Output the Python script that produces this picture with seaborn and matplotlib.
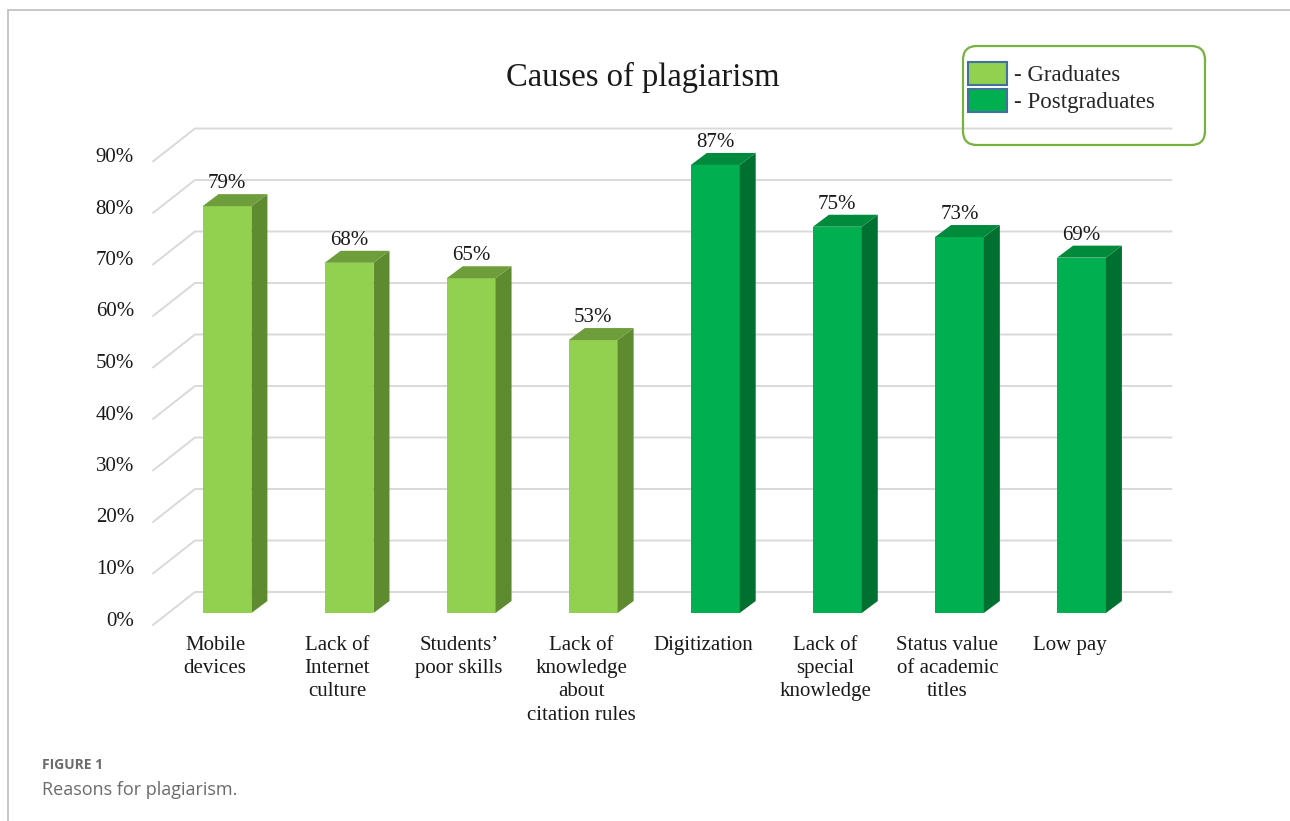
# Pseudo-3D bar chart: causes of plagiarism for graduates and postgraduates.

import numpy as np
import pandas as pd
import seaborn as sns
import matplotlib
matplotlib.use("Agg")
import matplotlib.pyplot as plt
from matplotlib.patches import Polygon, Patch, FancyBboxPatch
from matplotlib.lines import Line2D

# Data
categories = ["Mobile\ndevices", "Lack of\nInternet\nculture", "Students’\npoor skills",
              "Lack of\nknowledge\nabout\ncitation rules", "Digitization",
              "Lack of\nspecial\nknowledge", "Status value\nof academic\ntitles", "Low pay"]
values = [79, 68, 65, 53, 87, 75, 73, 69]
groups = ["Graduates"] * 4 + ["Postgraduates"] * 4
group_names = ["Graduates", "Postgraduates"]
y_ticks = list(range(0, 100, 10))

# Face colours: front, side, top
front = {"Graduates": "#92D050", "Postgraduates": "#00B050"}
side = {"Graduates": "#5E8B2F", "Postgraduates": "#007030"}
top = {"Graduates": "#6E9D3B", "Postgraduates": "#008A3C"}
ink = "#1A1A1A"

sns.set_style("white")
plt.rcParams["font.family"] = ["Liberation Serif", "DejaVu Serif"]

W, H = 1290, 821
fig = plt.figure(figsize=(W / 100, H / 100), dpi=100)
ax = fig.add_axes([100 / W, (H - 700) / H, 1100 / W, 600 / H])

df = pd.DataFrame({"cause": categories, "value": values, "group": groups})
sns.barplot(data=df, x="cause", y="value", hue="group", hue_order=group_names,
            palette=front, width=0.4, dodge=False, saturation=1, legend=False,
            linewidth=0, ax=ax, zorder=2)

# pixel scale of the bar plane
cat_px, first_px = 122.07, 227
val_px, base_px = 5.15, 613
ax.set_xlim((100 - first_px) / cat_px, (1200 - first_px) / cat_px)
ax.set_ylim((base_px - 700) / val_px, (base_px - 100) / val_px)
ax.axis("off")


def shift(x, y, dx, dy):
    # data point moved by a pixel offset, back in data coords
    px, py = ax.transData.transform((x, y))
    return ax.transData.inverted().transform((px + dx, py + dy))


left_edge, right_edge = -0.5, len(categories) - 0.5

# back wall gridlines with the slanted floor-side stubs
for v in y_ticks:
    f = shift(left_edge, v, -13, -12)
    bl = shift(left_edge, v, 29, 21)
    br = shift(right_edge, v, 29, 21)
    ax.plot([f[0], bl[0], br[0]], [f[1], bl[1], br[1]], color="#D9D9D9", lw=1.4, zorder=0)
    t = shift(left_edge, v, -32, -8)
    ax.text(t[0], t[1], f"{v}%", ha="right", va="center", fontsize=15, color=ink)

# depth faces and value labels
dx, dy = 16, 12
for cont, g in zip(ax.containers, group_names):
    for bar in cont:
        h = bar.get_height()
        if np.isnan(h):
            continue
        x0 = bar.get_x()
        x1 = x0 + bar.get_width()
        side_pts = [(x1, 0), (x1, h), shift(x1, h, dx, dy), shift(x1, 0, dx, dy)]
        top_pts = [(x0, h), (x1, h), shift(x1, h, dx, dy), shift(x0, h, dx, dy)]
        ax.add_patch(Polygon(side_pts, closed=True, facecolor=side[g], lw=0, zorder=2))
        ax.add_patch(Polygon(top_pts, closed=True, facecolor=top[g], lw=0, zorder=2))
        lx, ly = shift((x0 + x1) / 2, h, 0, dy + 1)
        ax.text(lx, ly, f"{h:.0f}%", ha="center", va="bottom", fontsize=15, color=ink)

# category labels
for xt, lab in zip(ax.get_xticks(), categories):
    p = shift(xt, 0, -12, -23)
    ax.text(p[0], p[1], lab, ha="center", va="top", fontsize=15, color=ink,
            linespacing=1.3)

fig.text(643 / W, 1 - 77 / H, "Causes of plagiarism", ha="center", va="center",
         fontsize=23.5, color=ink)

# legend in a rounded green frame
handles = [Patch(facecolor=front[g], edgecolor="#41719C", linewidth=1.5, label="- " + g)
           for g in group_names]
fig.legend(handles=handles, loc="upper left", bbox_to_anchor=(968 / W, 1 - 62 / H),
           bbox_transform=fig.transFigure, frameon=False, fontsize=16.5,
           handlelength=1.7, handleheight=1.17, handletextpad=0.3, labelspacing=0.12,
           borderpad=0, borderaxespad=0)
fig.add_artist(FancyBboxPatch((963 / 100, (H - 145) / 100), 2.42, 0.99,
                              boxstyle="round,pad=0,rounding_size=0.14",
                              transform=fig.dpi_scale_trans, facecolor="none",
                              edgecolor="#77B140", lw=1.6))

# page frame and caption
fig.add_artist(Line2D([8 / W, 1], [1 - 10 / H, 1 - 10 / H], transform=fig.transFigure,
                      color="#BDBDBD", lw=1.2))
fig.add_artist(Line2D([8 / W, 8 / W], [0, 1 - 10 / H], transform=fig.transFigure,
                      color="#BDBDBD", lw=1.2))
fig.text(42 / W, 1 - 765 / H, "FIGURE 1", ha="left", va="center", fontsize=10,
         fontweight="bold", color="#6B6B6B", family="Open Sans")
fig.text(42 / W, 1 - 790 / H, "Reasons for plagiarism.", ha="left", va="center",
         fontsize=13, color="#6B6B6B", family="Open Sans")

fig.savefig("out.png", dpi=100)
